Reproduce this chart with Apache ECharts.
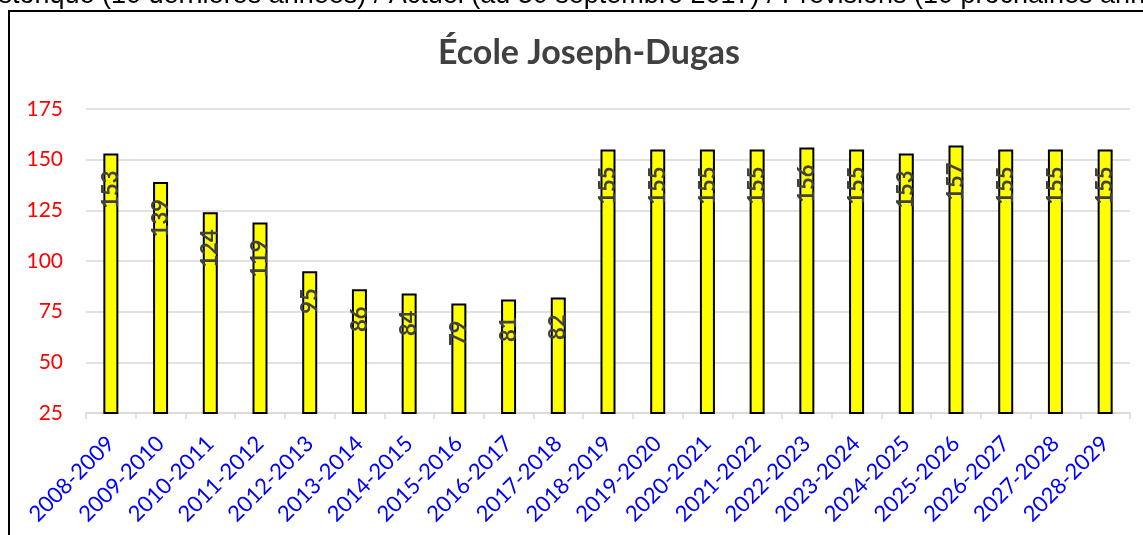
<!DOCTYPE html>
<html>
<head>
<meta charset="utf-8">
<script src="https://cdn.jsdelivr.net/npm/echarts@6/dist/echarts.min.js"></script>
<style>
  html, body { margin: 0; padding: 0; background: #fff; }
  #main { width: 1143px; height: 535px; }
</style>
</head>
<body>
<div id="main"></div>
<script>
// années scolaires
var years = ['2008-2009', '2009-2010', '2010-2011', '2011-2012', '2012-2013', '2013-2014',
  '2014-2015', '2015-2016', '2016-2017', '2017-2018', '2018-2019', '2019-2020', '2020-2021',
  '2021-2022', '2022-2023', '2023-2024', '2024-2025', '2025-2026', '2026-2027', '2027-2028',
  '2028-2029'];
// effectifs
var effectifs = [153, 139, 124, 119, 95, 86, 84, 79, 81, 82, 155, 155, 155, 155, 156, 155, 153, 157, 155, 155, 155];

var chartTitle = 'École Joseph-Dugas';
var heading = 'Historique (10 dernières années) / Actuel (au 30 septembre 2017) / Prévisions (10 prochaines années)';

var chart = echarts.init(document.getElementById('main'), null, { renderer: 'canvas' });

var option = {
  animation: false,
  backgroundColor: '#fff',
  title: {
    text: chartTitle,
    left: 584,
    textAlign: 'center',
    top: 31,
    textStyle: { fontFamily: 'Lato', fontWeight: 'bold', fontSize: 34, color: '#404040' }
  },
  graphic: [
    {
      type: 'text',
      x: -27,
      y: -4,
      style: {
        text: heading,
        font: '27px "Liberation Sans"',
        fill: '#000',
        verticalAlign: 'middle'
      }
    },
    {
      type: 'rect',
      shape: { x: 9, y: 11, width: 1200, height: 600 },
      style: { fill: null, stroke: '#000', lineWidth: 2 }
    }
  ],
  grid: { left: 86, right: 13, top: 109, bottom: 122 },
  xAxis: {
    type: 'category',
    data: years,
    axisLine: { lineStyle: { color: '#d9d9d9', width: 1.5 } },
    axisTick: { show: true, length: 6, lineStyle: { color: '#d9d9d9', width: 1.5 } },
    axisLabel: {
      interval: 0,
      rotate: 45,
      margin: 27,
      color: '#0000ff',
      fontFamily: 'Lato',
      fontSize: 22
    }
  },
  yAxis: {
    type: 'value',
    min: 25,
    max: 175,
    interval: 25,
    axisLine: { show: false },
    axisTick: { show: false },
    splitLine: { lineStyle: { color: '#d9d9d9', width: 1.5 } },
    axisLabel: {
      margin: 23,
      color: '#ff0000',
      fontFamily: 'Lato',
      fontSize: 21
    }
  },
  series: [
    {
      type: 'bar',
      data: effectifs,
      barWidth: 15,
      itemStyle: { color: '#ffff00', borderColor: '#000', borderWidth: 2 },
      label: {
        show: true,
        position: 'insideTop',
        rotate: 90,
        align: 'right',
        verticalAlign: 'middle',
        distance: 17,
        color: '#404040',
        fontFamily: 'Lato',
        fontWeight: 'bold',
        fontSize: 22
      }
    }
  ]
};

chart.setOption(option);
</script>
</body>
</html>
